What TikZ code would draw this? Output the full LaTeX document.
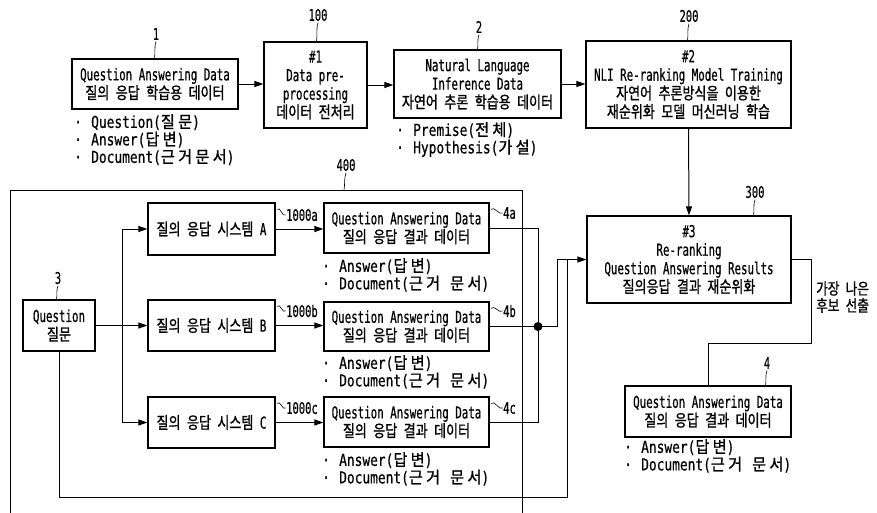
\documentclass[tikz,border=0pt]{standalone}
\usepackage{fontspec}
\setmainfont[FakeStretch=0.655, FakeBold=0.5]{DejaVu Sans Mono}
\newfontfamily\krfont[FakeStretch=0.79, WordSpace=2.2, FakeBold=1]{Noto Sans CJK KR}
\newfontfamily\latbul[FakeStretch=0.78, FakeBold=0.5]{DejaVu Sans Mono}
\newfontfamily\krbul[FakeStretch=0.92, LetterSpace=20, WordSpace=1.5, FakeBold=1]{Noto Sans CJK KR}
\newcommand\KR[1]{{\krfont #1}}
\newcommand\KB[1]{{\krbul #1}}
\usetikzlibrary{arrows.meta,calc}
\newcommand\bulletmark{\makebox[17pt][l]{·}}
\begin{document}
\begin{tikzpicture}[x=1pt,y=-1pt,
  every node/.style={inner sep=0pt, font=\fontsize{16.5}{18.5}\selectfont},
  box/.style={draw, line width=1.2pt, align=center},
  arr/.style={line width=1pt, -{Triangle[length=9pt,width=6pt]}},
  wire/.style={line width=1pt},
  frame/.style={line width=0.9pt},
  leader/.style={line width=0.6pt},
  num/.style={font=\fontsize{16}{17}\selectfont},
  bul/.style={align=left, anchor=north west, font=\latbul\fontsize{16.5}{17.5}\selectfont},
  side/.style={anchor=west, font=\fontsize{16}{17}\selectfont}]
\useasboundingbox (0,0) rectangle (877,512);

% top row
\node[box, minimum width=166pt, minimum height=50pt] (b1) at (155,84) {Question Answering Data\\\KR{질의 응답 학습용 데이터}};
\node[box, minimum width=103pt, minimum height=86pt] (b100) at (315.5,85) {\#1\\Data pre-\\processing\\\KR{데이터 전처리}};
\node[box, minimum width=167pt, minimum height=68pt] (b2) at (477.5,84) {Natural Language\\Inference Data\\\KR{자연어 추론 학습용 데이터}};
\node[box, minimum width=205pt, minimum height=87pt] (b200) at (688.5,84.5) {\#2\\NLI Re-ranking Model Training\\\KR{자연어 추론방식을 이용한}\\\KR{재순위화 모델 머신러닝 학습}};
\node[box, minimum width=204pt, minimum height=87pt] (b300) at (689,259.5) {\#3\\Re-ranking\\Question Answering Results\\\KR{질의응답 결과 재순위화}};
\node[box, minimum width=166pt, minimum height=51pt] (b4) at (708,411.5) {Question Answering Data\\\KR{질의 응답 결과 데이터}};

% inside frame 400
\node[box, minimum width=72pt, minimum height=51pt] (bQ) at (59,325.5) {Question\\\KR{질문}};
\node[box, minimum width=127pt, minimum height=52pt] (sA) at (211.5,229) {\KR{질의 응답 시스템} A};
\node[box, minimum width=127pt, minimum height=51pt] (sB) at (211.5,325.5) {\KR{질의 응답 시스템} B};
\node[box, minimum width=127pt, minimum height=51pt] (sC) at (211.5,422.5) {\KR{질의 응답 시스템} C};
\node[box, minimum width=165pt, minimum height=50pt] (qa) at (406.5,228) {Question Answering Data\\\KR{질의 응답 결과 데이터}};
\node[box, minimum width=165pt, minimum height=49pt] (qb) at (406.5,326.5) {Question Answering Data\\\KR{질의 응답 결과 데이터}};
\node[box, minimum width=165pt, minimum height=50pt] (qc) at (406.5,422) {Question Answering Data\\\KR{질의 응답 결과 데이터}};

% bullet lists
\node[bul] (L1) at (74,114) {\bulletmark Question(\KB{질문})\\\bulletmark Answer(\KB{답변})\\\bulletmark Document(\KB{근거문서})};
\node[bul] (L2) at (396,122) {\bulletmark Premise(\KB{전체})\\\bulletmark Hypothesis(\KB{가설})};
\node[bul] (La) at (322,258) {\bulletmark Answer(\KB{답변})\\\bulletmark Document(\KB{근거 문서})};
\node[bul] (Lb) at (322,355) {\bulletmark Answer(\KB{답변})\\\bulletmark Document(\KB{근거 문서})};
\node[bul] (Lc) at (322,452) {\bulletmark Answer(\KB{답변})\\\bulletmark Document(\KB{근거 문서})};
\node[bul] (L4) at (624,439) {\bulletmark Answer(\KB{답변})\\\bulletmark Document(\KB{근거 문서})};

\node[anchor=west, align=left, font=\krfont\fontsize{16}{17}\selectfont] (sel) at (816,297) {가장 나은\\후보 선출};

% frame 400 (open at the bottom)
\draw[frame] (10,520) -- (10,190) -- (522,190) -- (522,520);
\coordinate (f400) at (344,190);

% reference numerals
\node[num] (n1) at (156,34) {1};
\node[num] (n100) at (318,15) {100};
\node[num] (n2) at (479,27) {2};
\node[num] (n200) at (689,16) {200};
\node[num] (n300) at (755,192) {300};
\node[num] (n400) at (346,165) {400};
\node[num] (n3) at (58,278) {3};
\node[num] (n4) at (767,363) {4};
\foreach \n/\t in {n1/b1, n100/b100, n2/b2, n200/b200, n300/b300, n3/bQ, n4/b4}{
  \draw[leader] ([yshift=-1.5pt]\n.south) .. controls +(-2,5) and +(1,-5) .. ([xshift=-1.5pt]\n.south |- \t.north);
}
\draw[leader] ([yshift=-1.5pt]n400.south) .. controls +(-2,5) and +(1,-5) .. (f400);

\node[side] (a1) at (286,215) {1000a};
\node[side] (a2) at (286,311) {1000b};
\node[side] (a3) at (286,408) {1000c};
\node[side] (c1) at (503,213) {4a};
\node[side] (c2) at (503,311) {4b};
\node[side] (c3) at (503,408) {4c};
\foreach \s/\l in {sA/a1, sB/a2, sC/a3, qa/c1, qb/c2, qc/c3}{
  \draw[leader] ([xshift=1.5pt,yshift=-7pt]\s.north east) .. controls +(3,-4) and +(-3,3) .. ([xshift=-0.5pt]\l.west);
}

% connectors top
\draw[arr] (b1.east) -- (b1.east -| b100.west);
\draw[arr] (b100.east) -- (b100.east -| b2.west);
\draw[arr] (b2.east) -- (b2.east -| b200.west);
\draw[arr] (b200.south) -- (b300.north);
\coordinate (r1) at (811,343);
\draw[wire] (b300.east) -| (r1) -| (b4.north);

% question fan-out
\coordinate (j) at (122,325.5);
\draw[arr] (bQ.east) -- (sB.west);
\draw[arr] (j) |- (sA.west);
\draw[arr] (j) |- (sC.west);
\draw[arr] (sA.east) -- (sA.east -| qa.west);
\draw[arr] (sB.east) -- (sB.east -| qb.west);
\draw[arr] (sC.east) -- (sC.east -| qc.west);

% merging results
\coordinate (dot) at (538,326.5);
\coordinate (d2) at (557,326.5);
\draw[wire] (qa.east) -| (dot);
\draw[wire] (qc.east) -| (dot);
\draw[wire] (qb.east) -- (dot);
\fill (dot) circle (4.5);
\draw[arr] (dot) -- (d2) |- (b300.west);
\coordinate (qb2) at (567,497);
\draw[wire] (bQ.south) |- (qb2) -- (qb2 |- b300.west);
\end{tikzpicture}
\end{document}
